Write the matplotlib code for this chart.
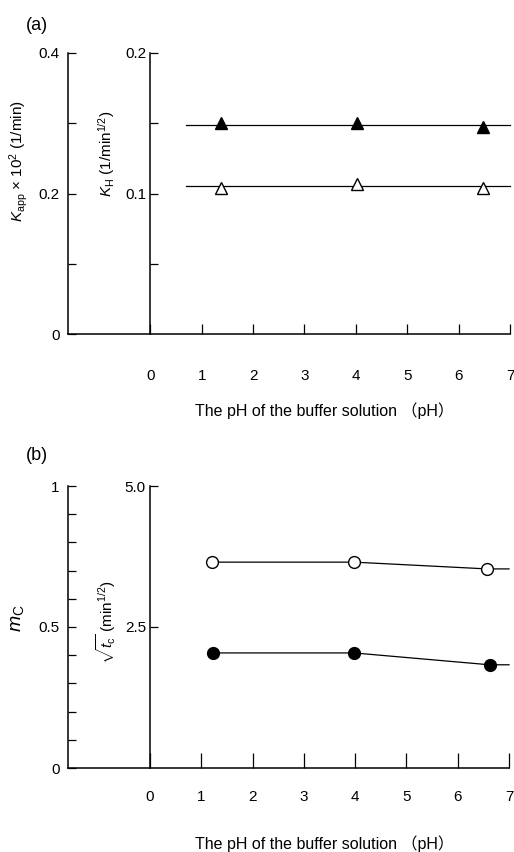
import matplotlib.pyplot as plt
import numpy as np
from matplotlib.ticker import MultipleLocator

plt.rcParams['font.family'] = ['Liberation Sans', 'Noto Sans CJK JP']
plt.rcParams['mathtext.fontset'] = 'custom'
plt.rcParams['mathtext.rm'] = 'Liberation Sans'
plt.rcParams['mathtext.it'] = 'Liberation Sans:italic'

# (a) rate constants against buffer pH
ph_a = np.array([1.38, 4.02, 6.47])
k_app = np.array([0.300, 0.300, 0.294])   # Kapp x 10^2 (1/min), filled triangles
k_h = np.array([0.104, 0.107, 0.104])     # KH (1/min^1/2), open triangles

# (b) mC and sqrt(tc) against buffer pH
ph_b_open = np.array([1.20, 3.98, 6.57])
m_c = np.array([0.730, 0.730, 0.706])     # open circles
ph_b_fill = np.array([1.23, 3.98, 6.62])
sqrt_tc = np.array([2.04, 2.04, 1.83])    # filled circles

ph_ticks = np.arange(0, 8)
xlabel = 'The pH of the buffer solution （pH）'

W, H = 514, 852
fig = plt.figure(figsize=(W / 100, H / 100), dpi=100)


def px(x, y):
    return x / W, 1 - y / H


def setup(rect, xtick_len, xpad):
    ax = fig.add_axes(rect)
    ax.set_xlim(-1.6, 7.0)
    for s in ['top', 'right']:
        ax.spines[s].set_visible(False)
    ax.spines['left'].set_linewidth(1.1)
    ax.spines['bottom'].set_linewidth(1.1)
    ax.set_xticks(ph_ticks)
    ax.tick_params(axis='x', direction='in', length=xtick_len, width=0.9,
                   pad=xpad, labelsize=11)
    ax.tick_params(axis='y', which='both', direction='in', width=0.9,
                   length=6, pad=6, labelsize=11)

    inner = ax.twinx()
    inner.set_xlim(-1.6, 7.0)
    for s in ['top', 'right', 'bottom']:
        inner.spines[s].set_visible(False)
    inner.spines['left'].set_visible(True)
    inner.spines['left'].set_position(('data', 0))
    inner.spines['left'].set_linewidth(1.1)
    inner.yaxis.set_ticks_position('left')
    inner.tick_params(axis='y', which='both', direction='in', width=0.9,
                      length=6, pad=3, labelsize=11)
    return ax, inner


# ---- panel (a)
ax_a, ax_a2 = setup([68 / W, 1 - 334 / H, 442 / W, 281 / H], 7, 25)
ax_a.set_ylim(0, 0.4)
ax_a.set_yticks([0, 0.2, 0.4])
ax_a.set_yticklabels(['0', '0.2', '0.4'])
ax_a.yaxis.set_minor_locator(MultipleLocator(0.1))
ax_a2.set_ylim(0, 0.2)
ax_a2.set_yticks([0.1, 0.2])
ax_a2.set_yticklabels(['0.1', '0.2'])
ax_a2.set_yticks([0.05, 0.15], minor=True)

# flat fit lines through each series
ax_a.plot([0.7, 7.0], [k_app.mean()] * 2, color='black', lw=0.9, clip_on=False)
ax_a2.plot([0.7, 7.0], [k_h.mean()] * 2, color='black', lw=0.9, clip_on=False)
ax_a.plot(ph_a, k_app, ls='none', marker='^', ms=9, color='black')
ax_a2.plot(ph_a, k_h, ls='none', marker='^', ms=9, mfc='white',
           mec='black', mew=1.0)

# ---- panel (b)
ax_b, ax_b2 = setup([68 / W, 1 - 768 / H, 441 / W, 282 / H], 11, 16)
ax_b.set_ylim(0, 1)
ax_b.set_yticks([0, 0.5, 1])
ax_b.set_yticklabels(['0', '0.5', '1'])
ax_b.yaxis.set_minor_locator(MultipleLocator(0.1))
ax_b2.set_ylim(0, 5)
ax_b2.set_yticks([2.5, 5.0])
ax_b2.set_yticklabels(['2.5', '5.0'])

ax_b.plot(np.append(ph_b_open, 7.0), np.append(m_c, m_c[-1]), color='black',
          lw=0.9, clip_on=False)
ax_b.plot(ph_b_open, m_c, ls='none', marker='o', ms=8.5, mfc='white',
          mec='black', mew=1.0)
ax_b2.plot(np.append(ph_b_fill, 7.0), np.append(sqrt_tc, sqrt_tc[-1]),
           color='black', lw=0.9, clip_on=False)
ax_b2.plot(ph_b_fill, sqrt_tc, ls='none', marker='o', ms=8.5, color='black')

# ---- labels
fig.text(*px(37, 26), '(a)', fontsize=13, ha='center', va='center')
fig.text(*px(37, 455), '(b)', fontsize=13, ha='center', va='center')

fig.text(*px(19, 161), r'$K_{\rm app}$ × 10$^2$ (1/min)', fontsize=11,
         rotation=90, ha='center', va='center')
fig.text(*px(107, 154), r'$K_{\rm H}$ (1/min$^{1/2}$)', fontsize=11,
         rotation=90, ha='center', va='center')
fig.text(*px(18, 618), r'$m_{\rm C}$', fontsize=14,
         rotation=90, ha='center', va='center')
fig.text(*px(106, 622), r'$\sqrt{t_{\rm c}}$ (min$^{1/2}$)', fontsize=11,
         rotation=90, ha='center', va='center')

fig.text(*px(324, 411), xlabel, fontsize=11.5, ha='center', va='center')
fig.text(*px(324, 844), xlabel, fontsize=11.5, ha='center', va='center')

fig.savefig('out.png', dpi=100)
